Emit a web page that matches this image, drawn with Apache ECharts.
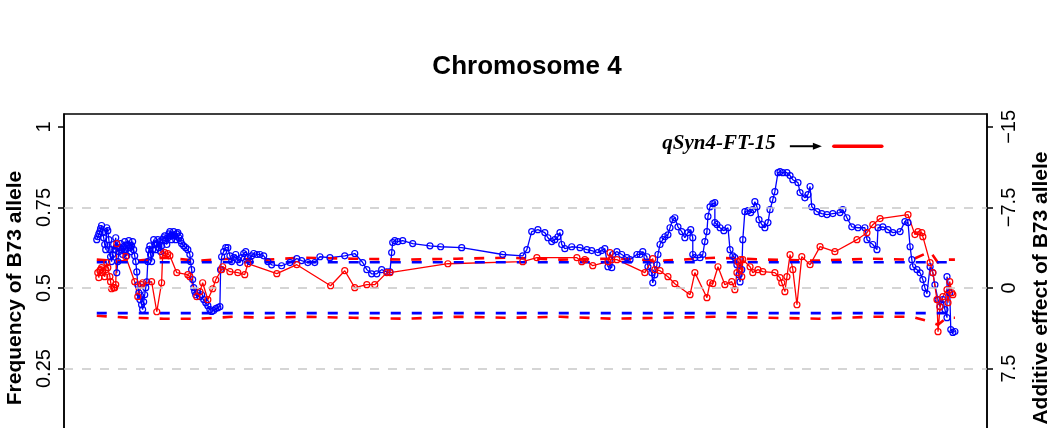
<!DOCTYPE html>
<html><head><meta charset="utf-8">
<script src="https://cdn.jsdelivr.net/npm/echarts@6/dist/echarts.min.js"></script>
<style>html,body{margin:0;padding:0;background:#fff}#c{width:1054px;height:428px}</style>
</head><body><div id="c"></div>
<script>
// Position along chromosome 4 (Mb) and frequency of the B73 allele
const blueMb = [0.6,0.9,1.2,1.5,1.7,2.0,2.3,2.6,2.9,3.2,3.5,3.8,4.1,4.4,4.6,4.9,5.2,5.5,5.8,6.1,
6.4,6.7,7.0,7.3,7.5,7.8,8.1,8.4,8.7,9.0,9.3,9.6,9.9,10.2,10.4,10.7,11.0,11.3,11.6,11.9,
12.2,12.5,12.8,13.1,13.3,13.6,13.9,14.2,14.5,14.8,15.1,15.4,15.7,16.0,16.2,16.5,16.8,17.1,17.4,17.7,
18.0,18.3,18.6,18.9,19.1,19.4,19.7,20.0,20.3,20.6,20.9,21.2,21.5,21.8,22.0,22.3,22.6,22.9,23.2,23.5,
23.8,24.1,24.4,24.7,24.9,25.2,25.8,26.4,27.0,27.6,27.8,28.1,28.4,28.7,29.0,29.3,29.9,30.5,31.0,31.6,
32.2,32.8,33.4,33.9,34.5,35.1,35.7,36.3,36.5,36.8,37.4,38.0,38.6,39.2,39.7,40.3,40.9,41.5,42.1,42.6,
43.2,43.8,44.4,45.0,45.5,46.1,47.0,47.9,49.0,50.2,51.3,54.2,56.6,58.6,60.0,61.8,63.8,65.3,68.2,72.5,
75.4,77.7,78.9,80.3,81.8,83.2,84.7,85.6,86.1,86.4,87.0,87.9,89.3,92.2,97.2,100.3,106.4,118.3,124.1,125.3,
126.7,128.5,130.5,131.4,132.5,133.4,134.3,134.9,135.4,136.3,138.3,140.7,142.7,144.1,145.9,147.0,147.9,148.8,149.9,150.2,
151.4,152.8,154.3,155.2,157.2,158.1,158.9,160.1,160.4,161.5,161.8,162.4,163.0,163.3,163.9,164.7,165.3,166.2,166.8,167.6,
168.2,169.1,170.2,171.1,172.0,172.8,173.4,173.4,174.0,175.5,176.3,176.9,177.5,177.8,178.4,179.2,179.8,179.8,180.4,181.3,
182.4,183.6,184.2,185.0,185.6,186.2,186.8,187.1,187.6,187.9,188.5,189.4,190.2,190.8,191.4,192.0,192.6,193.4,194.3,195.2,
195.8,196.6,197.2,198.1,198.7,199.5,200.7,201.6,202.4,203.9,204.5,205.9,206.8,207.4,207.9,209.4,210.8,212.3,214.0,216.1,
216.9,218.1,219.5,221.3,223.3,223.9,225.6,226.8,227.1,228.5,230.0,231.4,233.5,234.9,235.8,236.4,236.9,237.2,238.4,239.3,
240.1,240.7,241.3,242.2,243.0,243.6,244.5,245.1,245.9,246.5,247.1,247.1,247.9,248.2,248.8,249.4];
const blueFreq = [0.650,0.659,0.668,0.675,0.684,0.694,0.672,0.656,0.635,0.619,
0.687,0.678,0.650,0.619,0.597,0.582,0.604,0.635,0.619,0.656,
0.547,0.582,0.613,0.625,0.638,0.619,0.604,0.628,0.644,0.619,
0.600,0.635,0.647,0.625,0.613,0.631,0.644,0.619,0.600,0.582,
0.550,0.510,0.485,0.464,0.476,0.448,0.433,0.457,0.479,0.501,
0.519,0.582,0.619,0.631,0.604,0.582,0.619,0.650,0.635,0.619,
0.638,0.650,0.625,0.644,0.613,0.631,0.650,0.656,0.662,0.647,
0.635,0.656,0.668,0.675,0.662,0.650,0.665,0.675,0.662,0.650,
0.668,0.672,0.656,0.662,0.647,0.638,0.631,0.625,0.619,0.604,
0.582,0.557,0.526,0.501,0.489,0.479,0.485,0.473,0.479,0.464,
0.454,0.445,0.433,0.427,0.430,0.436,0.439,0.442,0.557,0.597,
0.613,0.625,0.625,0.600,0.582,0.594,0.604,0.588,0.579,0.594,
0.607,0.613,0.594,0.582,0.600,0.607,0.604,0.604,0.600,0.582,
0.572,0.569,0.579,0.591,0.585,0.579,0.579,0.597,0.594,0.600,
0.607,0.579,0.557,0.544,0.544,0.557,0.550,0.550,0.610,0.641,
0.647,0.644,0.647,0.638,0.631,0.628,0.625,0.604,0.600,0.619,
0.675,0.681,0.672,0.656,0.644,0.650,0.659,0.672,0.635,0.622,
0.628,0.625,0.619,0.616,0.610,0.616,0.622,0.566,0.563,0.604,
0.613,0.604,0.594,0.588,0.604,0.604,0.613,0.597,0.566,0.547,
0.516,0.541,0.572,0.604,0.635,0.650,0.659,0.665,0.687,0.712,
0.718,0.690,0.675,0.656,0.672,0.681,0.656,0.604,0.594,0.594,
0.604,0.644,0.675,0.722,0.752,0.762,0.765,0.703,0.697,0.687,
0.678,0.687,0.619,0.600,0.594,0.572,0.541,0.519,0.557,0.650,
0.737,0.740,0.734,0.743,0.768,0.752,0.712,0.697,0.687,0.703,
0.743,0.774,0.799,0.858,0.861,0.858,0.858,0.849,0.836,0.827,
0.796,0.780,0.790,0.815,0.752,0.737,0.731,0.728,0.731,0.734,
0.743,0.718,0.690,0.687,0.687,0.650,0.635,0.619,0.687,0.690,
0.681,0.672,0.675,0.706,0.703,0.628,0.588,0.566,0.557,0.547,
0.526,0.501,0.482,0.566,0.547,0.510,0.464,0.442,0.464,0.433,
0.408,0.535,0.485,0.371,0.362,0.365];

// Additive effect of the B73 allele (right axis)
const redMb = [0.9,1.2,1.5,1.7,2.0,2.3,2.9,3.2,3.5,3.8,
4.4,4.6,4.9,5.5,5.8,6.1,6.4,9.0,11.6,12.5,
13.6,13.9,16.5,18.0,19.4,19.7,20.3,21.2,21.8,23.8,
27.0,27.6,29.6,30.5,31.3,32.8,34.2,35.1,36.8,37.1,
39.2,41.5,43.5,44.4,52.8,58.6,68.4,72.5,75.4,78.9,
81.2,84.7,85.6,102.4,124.1,128.2,139.8,141.2,142.1,144.4,
148.8,149.4,149.9,151.4,159.5,161.8,162.4,163.9,166.2,168.2,
172.6,174.0,177.5,178.4,179.2,180.7,182.7,184.7,185.6,186.2,
186.5,187.1,187.3,187.6,187.9,190.0,190.8,192.3,193.7,197.2,
198.7,199.2,200.1,200.7,201.6,202.4,203.6,205.0,207.4,210.3,
214.6,221.0,223.9,225.6,227.7,235.8,237.8,238.7,239.8,240.1,
242.2,243.0,244.2,244.5,245.1,245.9,247.1,247.4,247.9,248.5,
248.8];
const redEffect = [-1.43,-0.96,-1.61,-1.71,-1.89,-1.43,-1.05,-1.71,-2.36,-1.89,
-1.05,-0.59,0.07,-0.03,-0.03,-0.31,-4.13,-2.92,-0.59,0.81,
-0.31,-0.49,-0.59,2.21,-0.49,-3.10,-3.29,-3.20,-3.01,-1.43,
-1.24,-1.05,0.81,0.34,-0.49,1.09,0.07,-0.77,-1.71,-1.98,
-1.52,-1.43,-1.24,-2.26,-1.33,-2.17,-0.21,-1.61,-0.03,-0.31,
-0.31,-1.43,-1.43,-2.26,-2.45,-2.82,-2.82,-2.45,-2.64,-2.08,
-2.45,-3.29,-2.64,-2.64,-1.43,-2.73,-1.71,-1.61,-1.05,-0.40,
0.62,-1.43,0.90,-0.49,-0.40,-1.98,-0.31,-0.59,0.16,-1.43,
-2.45,-1.71,-2.64,-1.05,-2.64,-1.98,-1.43,-1.71,-1.52,-1.43,
-0.96,-0.49,0.34,-1.05,-3.10,-1.71,1.56,-2.92,-2.17,-3.85,
-3.38,-4.50,-5.15,-5.90,-6.46,-6.83,-4.97,-5.25,-5.15,-4.78,
-2.36,-1.43,1.09,4.07,1.75,0.81,0.16,1.37,-0.59,0.44,
0.62];

// Significance thresholds
const blueThrMb = [0.6, 249.4];
const blueThrUpper = [0.58, 0.58];
const blueThrLower = [0.422, 0.422];
const redThrMb = [0.6,10,20,30,40,50,60,75,90,105,120,135,150,165,180,195,210,225,237,242.2,244.5,247,249.4];
const redThrUpper = [-2.64,-2.45,-2.82,-2.55,-2.73,-2.64,-2.82,-2.73,-2.64,-2.73,-2.82,-2.64,-2.73,-2.55,-2.82,-2.64,-2.55,-2.73,-2.64,-3.40,-2.36,-2.64,-2.64];
const redThrLower = [2.58,2.77,2.86,2.86,2.68,2.77,2.68,2.77,2.86,2.68,2.77,2.68,2.86,2.77,2.68,2.77,2.86,2.68,2.68,3.14,3.42,2.77,2.77];

// Axis ticks and reference lines
const freqTicks = [0, 0.25, 0.5, 0.75, 1];
const effectTicks = [-15, -7.5, 0, 7.5, 15];
const gridLevels = [0.25, 0.5, 0.75];

// QTL interval
const qtlName = 'qSyn4-FT-15';
const qtlStartMb = 214.3;
const qtlEndMb = 228.2;
const qtlLevel = -13.2;

const zip = (a, b) => a.map((v, i) => [v, b[i]]);
const FONT = '"Liberation Sans", Arial, sans-serif';
const chart = echarts.init(document.getElementById('c'), null, {renderer: 'canvas'});

const pointSeries = (name, xs, ys, color, yi) => ({
  name, type: 'line', yAxisIndex: yi, data: zip(xs, ys),
  symbol: 'circle', symbolSize: 6, showSymbol: true, showAllSymbol: true,
  itemStyle: {color: 'rgba(0,0,0,0)', borderColor: color, borderWidth: 1.2},
  lineStyle: {color, width: 1.3}, emphasis: {disabled: true}, silent: true
});
const thrSeries = (xs, ys, color, yi) => ({
  type: 'line', yAxisIndex: yi, data: zip(xs, ys), symbol: 'none',
  lineStyle: {color, width: 2.6, type: [10, 11]}, silent: true
});
const axisLine = {show: true, onZero: false, lineStyle: {color: '#000', width: 1.5}};

chart.setOption({
  animation: false,
  backgroundColor: '#fff',
  title: {text: 'Chromosome 4', left: 'center', top: 49,
    textStyle: {fontFamily: FONT, fontSize: 26, fontWeight: 'bold', color: '#000'}},
  grid: {left: 64, top: 114, width: 923, height: 348, show: true, outerBoundsMode: 'none', containLabel: false,
    borderColor: '#000', borderWidth: 1.5, backgroundColor: 'rgba(0,0,0,0)'},
  xAxis: {type: 'value', min: -8.9, max: 258.7, show: false},
  yAxis: [
    {type: 'value', min: -0.04, max: 1.04, position: 'left',
      axisLine: axisLine, splitLine: {show: false},
      axisTick: {show: true, inside: false, customValues: freqTicks, length: 6, lineStyle: {color: '#000', width: 1.5}},
      axisLabel: {customValues: freqTicks, rotate: 90, fontSize: 20, fontFamily: FONT, color: '#000', margin: 10},
      name: 'Frequency of B73 allele', nameLocation: 'middle', nameRotate: 90, nameGap: 38,
      nameTextStyle: {fontSize: 21, fontWeight: 'bold', fontFamily: FONT, color: '#000'}},
    {type: 'value', min: -16.2, max: 16.2, inverse: true, position: 'right',
      axisLine: axisLine, splitLine: {show: false},
      axisTick: {show: true, inside: false, customValues: effectTicks, length: 6, lineStyle: {color: '#000', width: 1.5}},
      axisLabel: {customValues: effectTicks, rotate: 90, fontSize: 20, fontFamily: FONT, color: '#000', margin: 12,
        formatter: v => (v < 0 ? '\u2212' + Math.abs(v) : String(v))},
      name: 'Additive effect of B73 allele', nameLocation: 'middle', nameRotate: 90, nameGap: 44,
      nameTextStyle: {fontSize: 21, fontWeight: 'bold', fontFamily: FONT, color: '#000'}}
  ],
  series: [
    {type: 'line', yAxisIndex: 0, data: [], silent: true,
      markLine: {silent: true, symbol: ['none', 'none'], label: {show: false},
        lineStyle: {color: '#c8c8c8', width: 1.5, type: [9, 9]},
        data: gridLevels.map(v => ({yAxis: v}))}},
    pointSeries('Frequency', blueMb, blueFreq, '#0000ff', 0),
    pointSeries('Additive effect', redMb, redEffect, '#ff0000', 1),
    thrSeries(redThrMb, redThrUpper, '#ff0000', 1),
    thrSeries(redThrMb, redThrLower, '#ff0000', 1),
    thrSeries(blueThrMb, blueThrUpper, '#0000ff', 0),
    thrSeries(blueThrMb, blueThrLower, '#0000ff', 0),
    {type: 'line', yAxisIndex: 1, data: [[qtlStartMb, qtlLevel], [qtlEndMb, qtlLevel]],
      symbol: 'none', lineStyle: {color: '#ff0000', width: 3.5, cap: 'round'}, silent: true}
  ]
});

const p = chart.convertToPixel({xAxisIndex: 0, yAxisIndex: 1}, [qtlStartMb, qtlLevel]);
chart.setOption({graphic: [
  {type: 'text', x: p[0] - 58, y: p[1] - 3, silent: true,
    style: {text: qtlName, font: 'italic bold 21px "Liberation Serif", "Times New Roman", serif',
      fill: '#000', align: 'right', verticalAlign: 'middle'}},
  {type: 'line', silent: true, shape: {x1: p[0] - 44, y1: p[1], x2: p[0] - 19, y2: p[1]},
    style: {stroke: '#000', lineWidth: 2}},
  {type: 'polygon', silent: true,
    shape: {points: [[p[0] - 12, p[1]], [p[0] - 21, p[1] - 3.5], [p[0] - 21, p[1] + 3.5]]},
    style: {fill: '#000'}}
]});
</script>
</body></html>
